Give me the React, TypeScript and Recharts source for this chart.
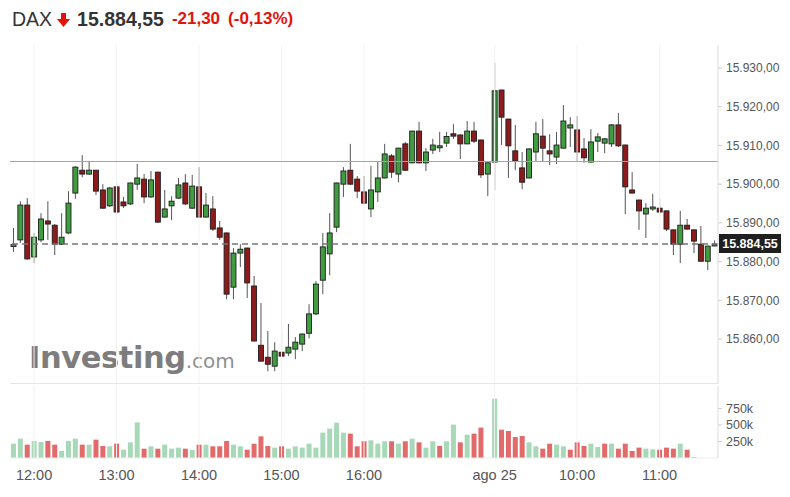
import { ComposedChart, Bar, Cell, XAxis, YAxis, ReferenceLine } from 'recharts';

// 5-minute candles: 24 Aug 11:45 -> 17:30, then 25 Aug 09:00 -> 11:40
const times = [
  '11:45', '11:50', '11:55',
  '12:00', '12:05', '12:10', '12:15', '12:20', '12:25', '12:30', '12:35', '12:40', '12:45', '12:50', '12:55',
  '13:00', '13:05', '13:10', '13:15', '13:20', '13:25', '13:30', '13:35', '13:40', '13:45', '13:50', '13:55',
  '14:00', '14:05', '14:10', '14:15', '14:20', '14:25', '14:30', '14:35', '14:40', '14:45', '14:50', '14:55',
  '15:00', '15:05', '15:10', '15:15', '15:20', '15:25', '15:30', '15:35', '15:40', '15:45', '15:50', '15:55',
  '16:00', '16:05', '16:10', '16:15', '16:20', '16:25', '16:30', '16:35', '16:40', '16:45', '16:50', '16:55',
  '17:00', '17:05', '17:10', '17:15', '17:20', '17:25', '17:30',
  '09:00', '09:05', '09:10', '09:15', '09:20', '09:25', '09:30', '09:35', '09:40', '09:45', '09:50', '09:55',
  '10:00', '10:05', '10:10', '10:15', '10:20', '10:25', '10:30', '10:35', '10:40', '10:45', '10:50', '10:55',
  '11:00', '11:05', '11:10', '11:15', '11:20', '11:25', '11:30', '11:35', '11:40',
];

const opens = [
  15884.2, 15885.6, 15894.6, 15881.2, 15885.6, 15890.5, 15889.4, 15884.5, 15887.4, 15897.7,
  15903.6, 15902.6, 15903.6, 15898.5, 15894.4, 15899.3, 15895.4, 15894.9, 15900.0, 15901.3,
  15896.7, 15903.1, 15891.5, 15894.4, 15896.4, 15900.3, 15893.8, 15899.3, 15891.5, 15893.6,
  15888.7, 15887.4, 15873.4, 15882.2, 15883.5, 15873.7, 15858.4, 15855.3, 15853.0, 15856.6,
  15856.4, 15857.4, 15858.7, 15861.5, 15866.5, 15875.2, 15882.0, 15888.9, 15900.0, 15903.6,
  15901.3, 15898.0, 15893.6, 15898.0, 15901.6, 15907.3, 15902.6, 15910.4, 15905.5, 15913.7,
  15905.5, 15908.8, 15909.6, 15910.6, 15913.0, 15912.7, 15910.4, 15913.7, 15911.4, 15902.6,
  15905.7, 15924.3, 15916.8, 15908.6, 15904.2, 15901.6, 15908.3, 15912.4, 15908.6, 15907.0,
  15909.3, 15914.5, 15914.0, 15909.1, 15905.7, 15911.1, 15910.6, 15910.4, 15915.3, 15910.1,
  15898.5, 15895.9, 15892.3, 15893.9, 15893.8, 15893.1, 15888.2, 15884.5, 15889.4, 15888.2,
  15884.5, 15880.1, 15884.5,
];

const highs = [
  15888.7, 15895.6, 15896.4, 15887.4, 15892.5, 15895.6, 15889.7, 15892.5, 15898.2, 15904.6,
  15907.5, 15906.0, 15903.7, 15900.0, 15899.3, 15900.3, 15896.7, 15900.4, 15905.2, 15902.6,
  15903.4, 15903.2, 15898.5, 15896.9, 15901.6, 15902.6, 15902.4, 15904.4, 15897.7, 15896.9,
  15890.5, 15887.5, 15883.5, 15884.5, 15883.6, 15876.3, 15869.3, 15862.1, 15859.2, 15861.3,
  15863.9, 15860.5, 15861.5, 15869.0, 15875.0, 15887.4, 15892.5, 15900.4, 15904.4, 15910.4,
  15902.1, 15902.1, 15904.7, 15906.0, 15910.4, 15907.8, 15909.4, 15910.9, 15913.8, 15916.1,
  15909.3, 15911.7, 15913.5, 15913.5, 15915.5, 15912.8, 15916.3, 15916.1, 15911.5, 15905.6,
  15931.3, 15924.4, 15916.9, 15915.3, 15908.3, 15909.2, 15916.1, 15916.8, 15912.9, 15913.5,
  15920.4, 15917.3, 15917.6, 15911.9, 15914.2, 15913.2, 15911.9, 15915.5, 15918.4, 15910.2,
  15903.1, 15896.0, 15895.1, 15897.5, 15896.4, 15893.2, 15888.3, 15893.1, 15891.0, 15888.3,
  15889.2, 15884.1, 15885.5,
];

const lows = [
  15882.5, 15884.8, 15880.5, 15879.6, 15885.0, 15885.6, 15881.7, 15884.3, 15887.1, 15896.2,
  15901.8, 15902.4, 15897.2, 15893.6, 15894.1, 15892.3, 15893.8, 15894.6, 15898.5, 15895.1,
  15896.5, 15890.0, 15891.4, 15890.7, 15896.2, 15894.6, 15893.6, 15891.4, 15891.4, 15887.9,
  15885.6, 15870.3, 15870.3, 15878.6, 15870.6, 15859.4, 15854.2, 15851.7, 15851.7, 15854.6,
  15855.6, 15854.8, 15856.9, 15860.2, 15866.2, 15871.6, 15876.5, 15887.6, 15896.7, 15899.8,
  15896.4, 15894.9, 15891.5, 15895.4, 15901.5, 15901.6, 15900.5, 15903.4, 15905.4, 15905.4,
  15903.4, 15907.8, 15908.3, 15909.6, 15911.7, 15906.5, 15910.3, 15910.6, 15901.6, 15896.9,
  15898.5, 15910.1, 15901.6, 15903.6, 15898.7, 15901.5, 15906.0, 15905.7, 15904.9, 15905.2,
  15909.2, 15909.6, 15905.7, 15905.5, 15905.6, 15908.3, 15908.0, 15909.6, 15909.6, 15892.3,
  15897.6, 15888.2, 15886.1, 15893.1, 15892.5, 15887.9, 15881.7, 15879.6, 15888.2, 15882.2,
  15880.0, 15877.8, 15884.0,
];

const closes = [
  15884.4, 15894.6, 15880.7, 15886.3, 15891.0, 15889.7, 15884.5, 15886.3, 15895.1, 15904.4,
  15902.6, 15903.6, 15898.2, 15893.8, 15899.0, 15892.8, 15894.4, 15900.3, 15901.6, 15896.7,
  15901.1, 15890.2, 15893.6, 15895.6, 15899.8, 15894.9, 15899.5, 15891.5, 15894.6, 15888.4,
  15886.3, 15871.6, 15882.2, 15883.2, 15874.5, 15859.5, 15854.3, 15853.5, 15856.9, 15855.6,
  15857.9, 15859.2, 15861.3, 15866.5, 15874.2, 15883.8, 15887.4, 15900.3, 15903.4, 15900.0,
  15898.2, 15895.1, 15898.5, 15901.6, 15907.8, 15903.1, 15909.3, 15903.6, 15913.7, 15905.5,
  15908.3, 15910.1, 15909.9, 15912.3, 15912.4, 15910.4, 15913.7, 15911.1, 15902.4, 15905.5,
  15924.1, 15917.3, 15909.9, 15906.0, 15900.5, 15909.1, 15913.0, 15909.3, 15907.8, 15910.1,
  15916.3, 15915.3, 15908.3, 15906.8, 15910.9, 15912.2, 15911.7, 15915.3, 15909.9, 15899.3,
  15897.7, 15893.1, 15893.8, 15894.1, 15892.8, 15888.4, 15884.5, 15889.4, 15888.4, 15885.3,
  15880.1, 15884.0, 15884.55,
];

// volume in thousands (no volume printed yet for the last three bars)
const volumesK = [
  217, 293, 202, 258, 242, 258, 202, 106, 258, 293,
  202, 202, 278, 182, 177, 217, 126, 237, 540, 141,
  177, 141, 202, 141, 157, 141, 121, 202, 202, 177,
  177, 258, 202, 177, 126, 217, 328, 182, 157, 177,
  141, 177, 157, 217, 157, 384, 444, 535, 384, 369,
  177, 253, 268, 217, 253, 253, 217, 253, 293, 237,
  157, 253, 182, 253, 505, 237, 353, 369, 460, 0,
  899, 429, 409, 318, 333, 237, 177, 141, 217, 202,
  177, 126, 237, 182, 217, 167, 217, 217, 141, 217,
  106, 157, 141, 131, 126, 157, 141, 217, 126, 10,
  null, null, null,
];

const hourTicks = ['12:00', '13:00', '14:00', '15:00', '16:00', '09:00', '10:00', '11:00'];
const priceTicks = [15860, 15870, 15880, 15890, 15900, 15910, 15920, 15930];
const volumeTicks = [250000, 500000, 750000];

const lastPrice = 15884.55;
const prevClose = 15905.85;
const change = -21.3;
const changePct = -0.13;

const priceDomain = [15848.4, 15935.93];

const fmtNum = (v: number, d = 2) => {
  const [int, dec] = Math.abs(v).toFixed(d).split('.');
  const grouped = int.replace(/\B(?=(\d{3})+(?!\d))/g, '.');
  return (v < 0 ? '-' : '') + grouped + (dec ? ',' + dec : '');
};

const data = times.map((t, i) => ({
  t,
  open: opens[i],
  high: highs[i],
  low: lows[i],
  close: closes[i],
  range: [lows[i], highs[i]],
  volume: volumesK[i] == null ? null : volumesK[i] * 1000,
  volUp: i === 0 ? closes[i] >= opens[i] : closes[i] >= closes[i - 1],
}));

const FONT = '"Liberation Sans", Arial, sans-serif';

function Candle(props: any) {
  const { x, y, width, height, payload } = props;
  if (x == null || y == null) return null;
  const top = Math.min(y, y + height);
  const h = Math.abs(height);
  const { open, close, high, low } = payload;
  const span = high - low || 1;
  const toY = (v: number) => top + ((high - v) / span) * h;
  const yo = toY(open);
  const yc = toY(close);
  const up = close >= open;
  const bodyTop = Math.min(yo, yc);
  const bodyH = Math.max(Math.abs(yc - yo), 2);
  const cx = x + width / 2;
  return (
    <g>
      <line x1={cx} x2={cx} y1={top} y2={top + h} stroke="#555" strokeWidth={1} />
      <rect
        x={x}
        y={bodyTop}
        width={width}
        height={bodyH}
        fill={up ? '#3f9c3f' : '#8c1c1c'}
        stroke="#1d1d1d"
        strokeWidth={0.9}
      />
    </g>
  );
}

function PriceTag(props: any) {
  const vb = props.viewBox;
  if (!vb) return null;
  const x = vb.x + vb.width + 1;
  const y = vb.y;
  return (
    <g>
      <rect x={x} y={y - 10} width={62} height={19} fill="#1f1f1f" />
      <text x={x + 31} y={y + 4.5} textAnchor="middle" fill="#fff" fontSize={12.5} fontWeight={700} fontFamily={FONT}>
        {fmtNum(lastPrice)}
      </text>
    </g>
  );
}

function DownArrow() {
  return (
    <svg width="13" height="14" viewBox="0 0 13 14" style={{ marginTop: 2 }}>
      <path d="M4 0 H9 V6 H13 L6.5 14 L0 6 H4 Z" fill="#e3120b" />
    </svg>
  );
}

export default function App() {
  return (
    <div style={{ position: 'absolute', left: 0, top: 0, width: 790, height: 497, background: '#fff', fontFamily: FONT }}>
      <div style={{ position: 'absolute', left: 12, top: 6, display: 'flex', alignItems: 'center', height: 26, whiteSpace: 'nowrap' }}>
        <span style={{ fontSize: 19.5, color: '#333' }}>DAX</span>
        <span style={{ marginLeft: 5, marginRight: 7, display: 'flex' }}><DownArrow /></span>
        <span style={{ fontSize: 19.5, fontWeight: 700, color: '#333' }}>{fmtNum(lastPrice)}</span>
        <span style={{ fontSize: 17, fontWeight: 700, color: '#e3120b', marginLeft: 8 }}>{fmtNum(change)}</span>
        <span style={{ fontSize: 17, fontWeight: 700, color: '#e3120b', marginLeft: 8 }}>({fmtNum(changePct)}%)</span>
      </div>

      {/* watermark */}
      <div style={{ position: 'absolute', left: 29, top: 340, whiteSpace: 'nowrap', color: '#7d7d7d' }}>
        <span style={{ fontFamily: '"DejaVu Sans", sans-serif', fontWeight: 700, fontSize: 30.5, letterSpacing: -0.4 }}>Investing</span>
        <span style={{ fontFamily: '"DejaVu Sans", sans-serif', fontSize: 20, color: '#8f8f8f' }}>.com</span>
      </div>

      <div style={{ position: 'absolute', left: 0, top: 0 }}>
        <ComposedChart width={790} height={384} data={data} margin={{ top: 45, right: 0, left: 10, bottom: 0 }}>
          <XAxis dataKey="t" hide />
          <YAxis
            orientation="right"
            domain={priceDomain}
            allowDataOverflow
            ticks={priceTicks}
            interval={0}
            tickFormatter={(v) => fmtNum(v)}
            width={72}
            axisLine={{ stroke: '#dcdcdc' }}
            tickLine={{ stroke: '#cfcfcf' }}
            tickSize={4}
            tickMargin={4}
            tick={{ fontSize: 12, fill: '#555', fontFamily: FONT }}
          />
          {hourTicks.map((h) => (
            <ReferenceLine key={h} x={h} stroke="#f3f3f3" strokeWidth={1} />
          ))}
          <ReferenceLine y={priceDomain[0]} stroke="#cccccc" />
          <ReferenceLine y={prevClose} stroke="#ee8484" strokeWidth={1} />
          <Bar dataKey="range" shape={<Candle />} barSize={5} isAnimationActive={false} />
          <ReferenceLine
            y={lastPrice}
            stroke="#777777"
            strokeWidth={1.5}
            strokeDasharray="6 4"
            label={(p: any) => <PriceTag {...p} />}
          />
        </ComposedChart>
      </div>

      <div style={{ position: 'absolute', left: 0, top: 384 }}>
        <ComposedChart width={790} height={113} data={data} margin={{ top: 2, right: 0, left: 10, bottom: 0 }}>
          <XAxis
            dataKey="t"
            ticks={hourTicks}
            interval={0}
            tickFormatter={(t) => (t === '09:00' ? 'ago 25' : t)}
            height={39}
            axisLine={{ stroke: '#eeeeee' }}
            tickLine={false}
            tickMargin={6}
            tick={{ fontSize: 14.5, fill: '#555', fontFamily: FONT }}
          />
          <YAxis
            orientation="right"
            domain={[0, 1090000]}
            allowDataOverflow
            ticks={volumeTicks}
            interval={0}
            tickFormatter={(v) => `${v / 1000}k`}
            width={72}
            axisLine={{ stroke: '#dcdcdc' }}
            tickLine={{ stroke: '#cfcfcf' }}
            tickSize={4}
            tickMargin={4}
            tick={{ fontSize: 12.5, fill: '#555', fontFamily: FONT }}
          />
          {hourTicks.map((h) => (
            <ReferenceLine key={h} x={h} stroke="#f3f3f3" />
          ))}
          <Bar dataKey="volume" barSize={5} isAnimationActive={false}>
            {data.map((d, i) => (
              <Cell key={i} fill={d.volUp ? '#a7d9b8' : '#e16a6a'} />
            ))}
          </Bar>
        </ComposedChart>
      </div>
    </div>
  );
}
